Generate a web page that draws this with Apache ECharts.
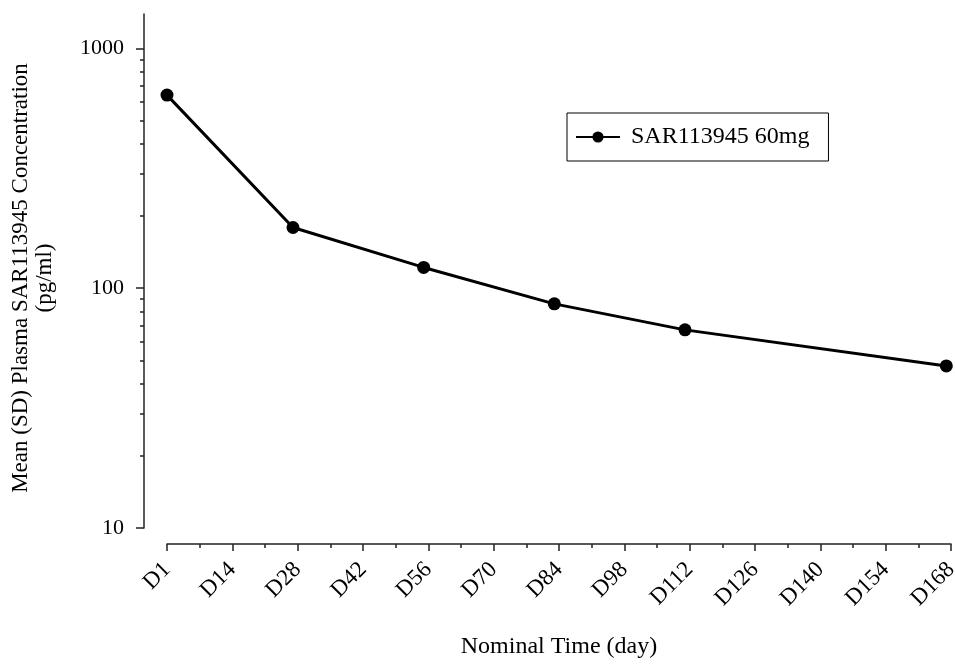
<!DOCTYPE html>
<html>
<head>
<meta charset="utf-8">
<script src="https://cdn.jsdelivr.net/npm/echarts@6/dist/echarts.min.js"></script>
<style>
  html, body { margin: 0; padding: 0; background: #fff; }
  #main { width: 955px; height: 664px; }
</style>
</head>
<body>
<div id="main"></div>
<script>
// elapsed days from D1 (D1 = 0)
var timeDays = [0, 27, 55, 83, 111, 167]
var concValues = [638, 179, 122, 86, 67, 47.4]
var seriesName = "SAR113945 60mg"
var xTickLabels = ["D1", "D14", "D28", "D42", "D56", "D70", "D84", "D98", "D112", "D126", "D140", "D154", "D168"]
var yMajorTicks = [10, 100, 1000]
var yMinorTicks = [20, 30, 40, 50, 60, 70, 80, 90, 200, 300, 400, 500, 600, 700, 800, 900]

var font = "Liberation Serif"
var axisColor = "#222"

var myChart = echarts.init(document.getElementById("main"))

var option = {
  animation: false,
  backgroundColor: "#fff",
  textStyle: { fontFamily: font, color: "#000" },
  grid: { left: 167, right: 4, top: 14, bottom: 136, outerBoundsMode: "none", containLabel: false },
  legend: {
    left: 567,
    top: 113,
    orient: "vertical",
    borderColor: "#000",
    borderWidth: 1,
    padding: [12, 19, 12, 8],
    itemWidth: 44,
    itemHeight: 14,
    textStyle: { fontFamily: font, fontSize: 24, color: "#000", lineHeight: 24, padding: [0, 0, 0, 6] },
    data: [seriesName]
  },
  xAxis: {
    type: "value",
    min: 0,
    max: 168,
    interval: 14,
    offset: 16,
    name: "Nominal Time (day)",
    nameLocation: "middle",
    nameGap: 91,
    nameTextStyle: { fontFamily: font, fontSize: 24, color: "#000" },
    axisLine: { show: true, onZero: false, lineStyle: { color: axisColor, width: 1.5 } },
    axisTick: { show: true, length: 7, lineStyle: { color: axisColor, width: 1.5 } },
    minorTick: { show: true, splitNumber: 2, length: 4, lineStyle: { color: axisColor, width: 1.5 } },
    splitLine: { show: false },
    axisLabel: {
      rotate: 45,
      margin: 22,
      fontFamily: font,
      fontSize: 23,
      color: "#000",
      formatter: function (v) { return xTickLabels[Math.round(v / 14)] }
    }
  },
  yAxis: [
    {
      type: "log",
      logBase: 10,
      min: 10,
      max: 1390,
      offset: 23,
      name: "Mean (SD) Plasma SAR113945 Concentration\n(pg/ml)",
      nameLocation: "middle",
      nameGap: 87,
      nameTextStyle: { fontFamily: font, fontSize: 23, color: "#000", lineHeight: 24, padding: [0, 14, 0, 0] },
      axisLine: { show: true, onZero: false, lineStyle: { color: axisColor, width: 1.5 } },
      axisTick: { show: true, length: 8, customValues: yMajorTicks, lineStyle: { color: axisColor, width: 1.5 } },
      splitLine: { show: false },
      axisLabel: {
        margin: 20,
        fontFamily: font,
        fontSize: 22,
        color: "#000",
        customValues: yMajorTicks,
        formatter: function (v) { return String(v) }
      }
    },
    {
      type: "log",
      logBase: 10,
      min: 10,
      max: 1390,
      offset: 23,
      position: "left",
      axisLine: { show: false, onZero: false },
      axisTick: { show: true, length: 4, customValues: yMinorTicks, lineStyle: { color: axisColor, width: 1.5 } },
      axisLabel: { show: false },
      splitLine: { show: false }
    }
  ],
  series: [
    {
      name: seriesName,
      type: "line",
      yAxisIndex: 0,
      data: timeDays.map(function (t, i) { return [t, concValues[i]] }),
      symbol: "circle",
      symbolSize: 13,
      itemStyle: { color: "#000" },
      lineStyle: { color: "#000", width: 3 }
    }
  ]
}

myChart.setOption(option)
</script>
</body>
</html>
